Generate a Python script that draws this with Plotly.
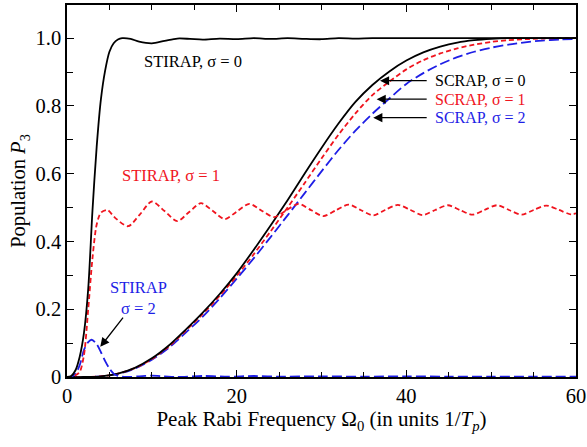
import plotly.graph_objects as go

# ---------------- data ----------------
stirap0_x = [0, 0.5, 1.0, 1.5, 2.0, 2.5, 3.0, 3.5, 4.0, 4.5, 5.0, 5.5, 6.0, 6.5, 7.5, 8.5, 10.0, 11.5, 13.0, 14.5, 16, 18, 20, 22, 24, 26, 28, 30, 32, 34, 36, 40, 45, 50, 55, 60]
stirap0_y = [0, 0.003, 0.02, 0.06, 0.13, 0.26, 0.49, 0.68, 0.82, 0.905, 0.96, 0.985, 0.996, 1.0, 0.998, 0.99, 0.985, 0.992, 0.999, 0.998, 0.996, 0.999, 0.997, 1.0, 0.998, 1.0, 0.998, 0.997, 1.0, 0.999, 1.0, 1.0, 1.0, 1.0, 1.0, 1.0]

stirap1_x = [0, 0.5, 1.0, 1.5, 2.0, 2.5, 3.0, 3.5, 4.0, 4.75, 5.7, 7.2, 8.6, 10.0, 11.5, 13.0, 14.4, 15.8, 17.2, 18.6, 20.0, 21.5, 23.0, 24.4, 25.8, 27.3, 28.8, 30.2, 31.7, 33.2, 34.6, 36.1, 37.5, 39.0, 40.5, 41.9, 43.4, 44.9, 46.3, 47.8, 49.2, 50.7, 52.1, 53.6, 55.0, 56.5, 58.0, 59.4, 60.0]
stirap1_y = [0, 0.0, 0.005, 0.015, 0.065, 0.2, 0.35, 0.45, 0.485, 0.493, 0.469, 0.445, 0.48, 0.518, 0.49, 0.46, 0.487, 0.513, 0.49, 0.466, 0.488, 0.511, 0.49, 0.472, 0.491, 0.511, 0.492, 0.475, 0.492, 0.509, 0.493, 0.477, 0.493, 0.508, 0.493, 0.478, 0.493, 0.507, 0.493, 0.479, 0.493, 0.507, 0.493, 0.479, 0.493, 0.506, 0.493, 0.48, 0.483]

stirap2_x = [0, 0.5, 1.0, 1.5, 2.0, 2.5, 2.9, 3.5, 4.0, 4.5, 5.0, 5.5, 6.0, 7.0, 8.5, 10.0, 11.5, 13, 16, 19, 22, 25, 30, 35, 40, 45, 50, 55, 60]
stirap2_y = [0, 0.001, 0.01, 0.035, 0.08, 0.103, 0.11, 0.097, 0.073, 0.047, 0.025, 0.01, 0.003, 0.0, 0.002, 0.004, 0.002, 0.0, 0.003, 0.001, 0.003, 0.001, 0.002, 0.001, 0.002, 0.001, 0.001, 0.001, 0.001]

scrap_x = [0, 2, 4, 6, 8, 10, 12, 14, 16, 18, 20, 22, 24, 26, 28, 30, 32, 34, 36, 38, 40, 42, 44, 46, 48, 50, 52, 54, 56, 58, 60]
scrap0_y = [0, 0, 0.002, 0.01, 0.027, 0.055, 0.093, 0.14, 0.19, 0.245, 0.306, 0.375, 0.447, 0.522, 0.600, 0.676, 0.748, 0.812, 0.862, 0.902, 0.934, 0.958, 0.975, 0.987, 0.994, 0.998, 1.0, 1.0, 1.0, 1.0, 1.0]
scrap1_y = [0, 0, 0.002, 0.01, 0.026, 0.053, 0.09, 0.137, 0.186, 0.24, 0.298, 0.362, 0.43, 0.5, 0.572, 0.645, 0.715, 0.778, 0.832, 0.872, 0.908, 0.935, 0.955, 0.970, 0.981, 0.989, 0.994, 0.997, 0.999, 1.0, 1.0]
scrap2_y = [0, 0, 0.002, 0.009, 0.025, 0.051, 0.086, 0.131, 0.178, 0.232, 0.29, 0.35, 0.413, 0.477, 0.542, 0.607, 0.67, 0.727, 0.777, 0.822, 0.865, 0.897, 0.923, 0.944, 0.96, 0.972, 0.981, 0.988, 0.993, 0.996, 0.998]

x_tickvals = [0, 20, 40, 60]
x_ticktext = ["0", "20", "40", "60"]
y_tickvals = [0, 0.2, 0.4, 0.6, 0.8, 1.0]
y_ticktext = ["0", "0.2", "0.4", "0.6", "0.8", "1.0"]

BLACK = "#000000"
RED = "#f0141e"
BLUE = "#1e1ee6"
FONT = "Liberation Serif, Times New Roman, Times, DejaVu Serif, serif"

fig = go.Figure()

def add(x, y, color, dash, width):
    fig.add_trace(go.Scatter(x=x, y=y, mode="lines",
                             line=dict(color=color, dash=dash, width=width, shape="spline", smoothing=0.8),
                             showlegend=False, hoverinfo="skip"))

add(scrap_x, scrap2_y, BLUE, "10px,4px", 1.8)
add(scrap_x, scrap1_y, RED, "5px,3px", 1.8)
add(scrap_x, scrap0_y, BLACK, "solid", 1.8)
add(stirap2_x, stirap2_y, BLUE, "10px,4px", 1.8)
add(stirap1_x, stirap1_y, RED, "5px,3px", 1.8)
add(stirap0_x, stirap0_y, BLACK, "solid", 1.8)

def fnt(color, size=16.5):
    return dict(family=FONT, size=size, color=color)

arrow_style = dict(showarrow=True, arrowhead=2, arrowsize=1.4, arrowwidth=1.3,
                   arrowcolor=BLACK, standoff=0, axref="x", ayref="y")
NB = "\u00a0\u00a0"

annotations = [
    dict(x=8.8, y=0.931, text="STIRAP, σ = 0", xanchor="left", yanchor="middle",
         showarrow=False, font=fnt(BLACK)),
    dict(x=6.3, y=0.596, text="STIRAP, σ = 1", xanchor="left", yanchor="middle",
         showarrow=False, font=fnt(RED)),
    dict(x=3.92, y=0.089, ax=8.45, ay=0.234, text="STIRAP<br>σ = 2",
         xanchor="center", yanchor="middle", font=fnt(BLUE), borderpad=0, borderwidth=0, **arrow_style),
    dict(x=36.9, y=0.8745, ax=42.4, ay=0.8745, text=NB + "SCRAP, σ = 0", xanchor="left", yanchor="middle",
         font=fnt(BLACK, 16), borderpad=0, borderwidth=0, **arrow_style),
    dict(x=36.5, y=0.82, ax=42.4, ay=0.82, text=NB + "SCRAP, σ = 1", xanchor="left", yanchor="middle",
         font=fnt(RED, 16), borderpad=0, borderwidth=0, **arrow_style),
    dict(x=36.1, y=0.7655, ax=42.4, ay=0.7655, text=NB + "SCRAP, σ = 2", xanchor="left", yanchor="middle",
         font=fnt(BLUE, 16), borderpad=0, borderwidth=0, **arrow_style),
]

axis_common = dict(showline=True, linecolor=BLACK, linewidth=1.5, mirror="ticks", ticks="inside",
                   tickcolor=BLACK, tickwidth=1.3, ticklen=7, showgrid=False, zeroline=False,
                   automargin=False, tickfont=fnt(BLACK, 20.5))

fig.update_layout(
    width=587, height=447,
    margin=dict(l=67, r=11, t=5, b=70),
    paper_bgcolor="white", plot_bgcolor="white",
    xaxis=dict(axis_common, range=[0, 60], tickvals=x_tickvals, ticktext=x_ticktext,
               title=dict(text="Peak Rabi Frequency Ω<sub>0</sub> (in units 1/<i>T</i><sub><i>p</i></sub>)",
                          font=fnt(BLACK, 21), standoff=2),
               minor=dict(dtick=5, tick0=0, ticks="inside", ticklen=5, tickcolor=BLACK, tickwidth=1.3)),
    yaxis=dict(axis_common, range=[0, 1.098], tickvals=y_tickvals, ticktext=y_ticktext,
               title=dict(text="Population <i>P</i><sub>3</sub>", font=fnt(BLACK, 20.5), standoff=4),
               minor=dict(dtick=0.1, tick0=0, ticks="inside", ticklen=6, tickcolor=BLACK, tickwidth=1.3)),
    annotations=annotations,
)

fig.write_html("out.html", config={"displayModeBar": False},
               post_script="document.body.style.margin='0px';")
